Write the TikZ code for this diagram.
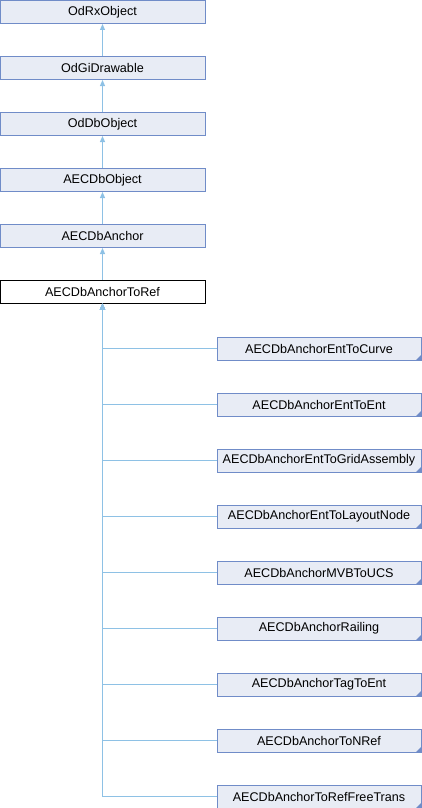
\documentclass[tikz,border=0pt]{standalone}
\usepackage{fontspec}
\setmainfont{Liberation Sans}
\usepackage{tikz}
\usetikzlibrary{arrows.meta,calc,positioning}
\definecolor{DoxEdge}  {RGB}{142,193,229}
\definecolor{DoxLine}  {RGB}{112,140,200}
\definecolor{DoxFill}  {RGB}{232,236,245}

\begin{document}
\begin{tikzpicture}[x=1pt,y=-1pt,
  cls/.style={draw=DoxLine,fill=DoxFill,line width=1pt,minimum width=205pt,
              minimum height=23pt,inner sep=0pt,font=\fontsize{12.6}{14}\selectfont},
  cur/.style={cls,draw=black,fill=white},
  inh/.style={DoxEdge,line width=1pt,-{Triangle[width=5pt,length=6pt]}}]
\useasboundingbox (0,0) rectangle (422,808);
\foreach \n/\y in {OdRxObject/12,OdGiDrawable/68,OdDbObject/124,AECDbObject/180,AECDbAnchor/236}
  \node[cls] (\n) at (102.5,\y) {\n};
\node[cur] (ToRef) at (102.5,291.5) {AECDbAnchorToRef};
\draw[inh] (OdGiDrawable) -- (OdRxObject);
\draw[inh] (OdDbObject) -- (OdGiDrawable);
\draw[inh] (AECDbObject) -- (OdDbObject);
\draw[inh] (AECDbAnchor) -- (AECDbObject);
\draw[inh] (ToRef) -- (AECDbAnchor);
\foreach \n [count=\i from 0] in {EntToCurve,EntToEnt,EntToGridAssembly,EntToLayoutNode,
    MVBToUCS,Railing,TagToEnt,ToNRef,ToRefFreeTrans}{
  \node[cls,minimum width=204pt] (c\i) at (319,348.5+56*\i) {AECDbAnchor\n};
  \fill[DoxLine] ([xshift=-6pt]c\i.south east) -- (c\i.south east) -- ([yshift=6pt]c\i.south east) -- cycle;
  \draw[inh] (c\i.west) -| (ToRef.south);
}
\end{tikzpicture}
\end{document}
